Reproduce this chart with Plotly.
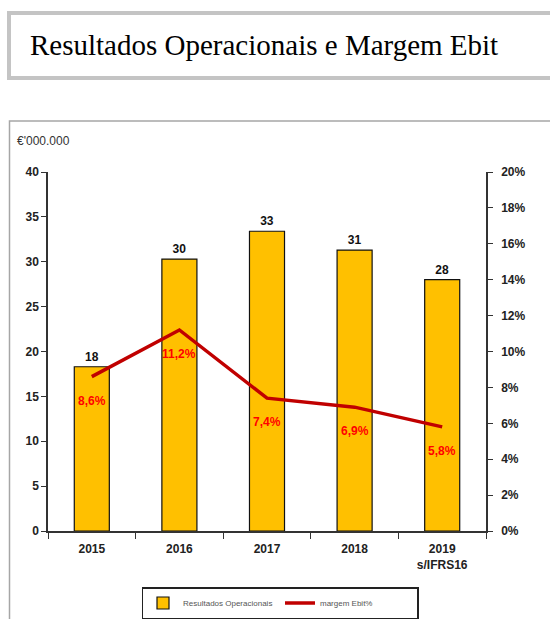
import plotly.graph_objects as go

years = ["2015", "2016", "2017", "2018", "2019<br>s/IFRS16"]
resultados = [18.3, 30.3, 33.4, 31.3, 28.0]
margem = [0.086, 0.112, 0.074, 0.069, 0.058]
bar_labels = ["18", "30", "33", "31", "28"]
margem_labels = ["8,6%", "11,2%", "7,4%", "6,9%", "5,8%"]

W, H = 550, 619
L, R, T, B = 48, 486, 172, 531

def px(x):
    return (x - L) / (R - L)

def py(y):
    return (B - y) / (B - T)

FONT = "Liberation Sans, Arial, sans-serif"

fig = go.Figure()
fig.add_trace(go.Bar(
    x=years, y=resultados, name="Resultados Operacionais",
    marker=dict(color="#FFC000", line=dict(color="#111", width=1.2)),
    width=0.4,
    text=["<b>" + s + "</b>" for s in bar_labels], textposition="outside",
    textfont=dict(family=FONT, size=12, color="#111"),
    cliponaxis=False,
))
fig.add_trace(go.Scatter(
    x=years, y=margem, name="margem Ebit%", yaxis="y2",
    mode="lines", line=dict(color="#C00000", width=3.5),
))
for i, (yv, t) in enumerate(zip(margem, margem_labels)):
    fig.add_annotation(x=i, y=yv, xref="x", yref="y2", text="<b>" + t + "</b>",
                       showarrow=False, yshift=-24,
                       font=dict(family=FONT, size=12, color="#FF0000"))

# title box
fig.add_shape(type="rect", xref="paper", yref="paper",
              x0=px(9), x1=px(600), y0=py(13), y1=py(78),
              line=dict(color="#C4C4C4", width=4), layer="below")
fig.add_annotation(xref="paper", yref="paper", x=px(28), y=py(45),
                   xanchor="left", yanchor="middle", showarrow=False,
                   text="Resultados Operacionais e Margem Ebit",
                   font=dict(family="Liberation Serif, Times New Roman, serif", size=29, color="#000"))
# chart frame
fig.add_shape(type="rect", xref="paper", yref="paper",
              x0=px(9.5), x1=px(700), y0=py(121), y1=py(800),
              line=dict(color="#A6A6A6", width=1.5), layer="below")
fig.add_annotation(xref="paper", yref="paper", x=px(15), y=py(141),
                   xanchor="left", yanchor="middle", showarrow=False,
                   text="€'000.000", font=dict(family=FONT, size=12, color="#333"))

fig.update_layout(
    width=W, height=H,
    margin=dict(l=L, r=W - R, t=T, b=H - B, autoexpand=False),
    paper_bgcolor="white", plot_bgcolor="white",
    bargap=0.6,
    showlegend=True,
    legend=dict(orientation="h", x=px(280), xanchor="center", y=py(603), yanchor="middle",
                bordercolor="#222", borderwidth=1.5, bgcolor="white",
                font=dict(family=FONT, size=8, color="#555"),
                entrywidth=92, itemwidth=30, tracegroupgap=0),
    xaxis=dict(type="category", range=[-0.5, 4.5], autorange=False,
               showline=True, linecolor="#333", linewidth=1.5, ticks="outside",
               tickson="boundaries", ticklen=6, tickcolor="#333", tickangle=0,
               ticklabelstandoff=6,
               tickfont=dict(family=FONT, size=12, color="#222", weight="bold"),
               showgrid=False, zeroline=False),
    yaxis=dict(range=[0, 40], dtick=5, showline=True, linecolor="#333", linewidth=1.5,
               ticks="outside", ticklen=5, tickcolor="#333",
               tickfont=dict(family=FONT, size=12, color="#222", weight="bold"),
               showgrid=False, zeroline=False),
    yaxis2=dict(range=[0, 0.2], dtick=0.02, tickformat=".0%", overlaying="y", side="right",
                showline=True, linecolor="#333", linewidth=1.5,
                ticks="outside", ticklen=5, tickcolor="#333", ticklabelstandoff=6,
                tickfont=dict(family=FONT, size=12, color="#222", weight="bold"),
                showgrid=False, zeroline=False),
)

fig.write_html("out.html", config={"displayModeBar": False},
               post_script="document.body.style.margin='0px';")
